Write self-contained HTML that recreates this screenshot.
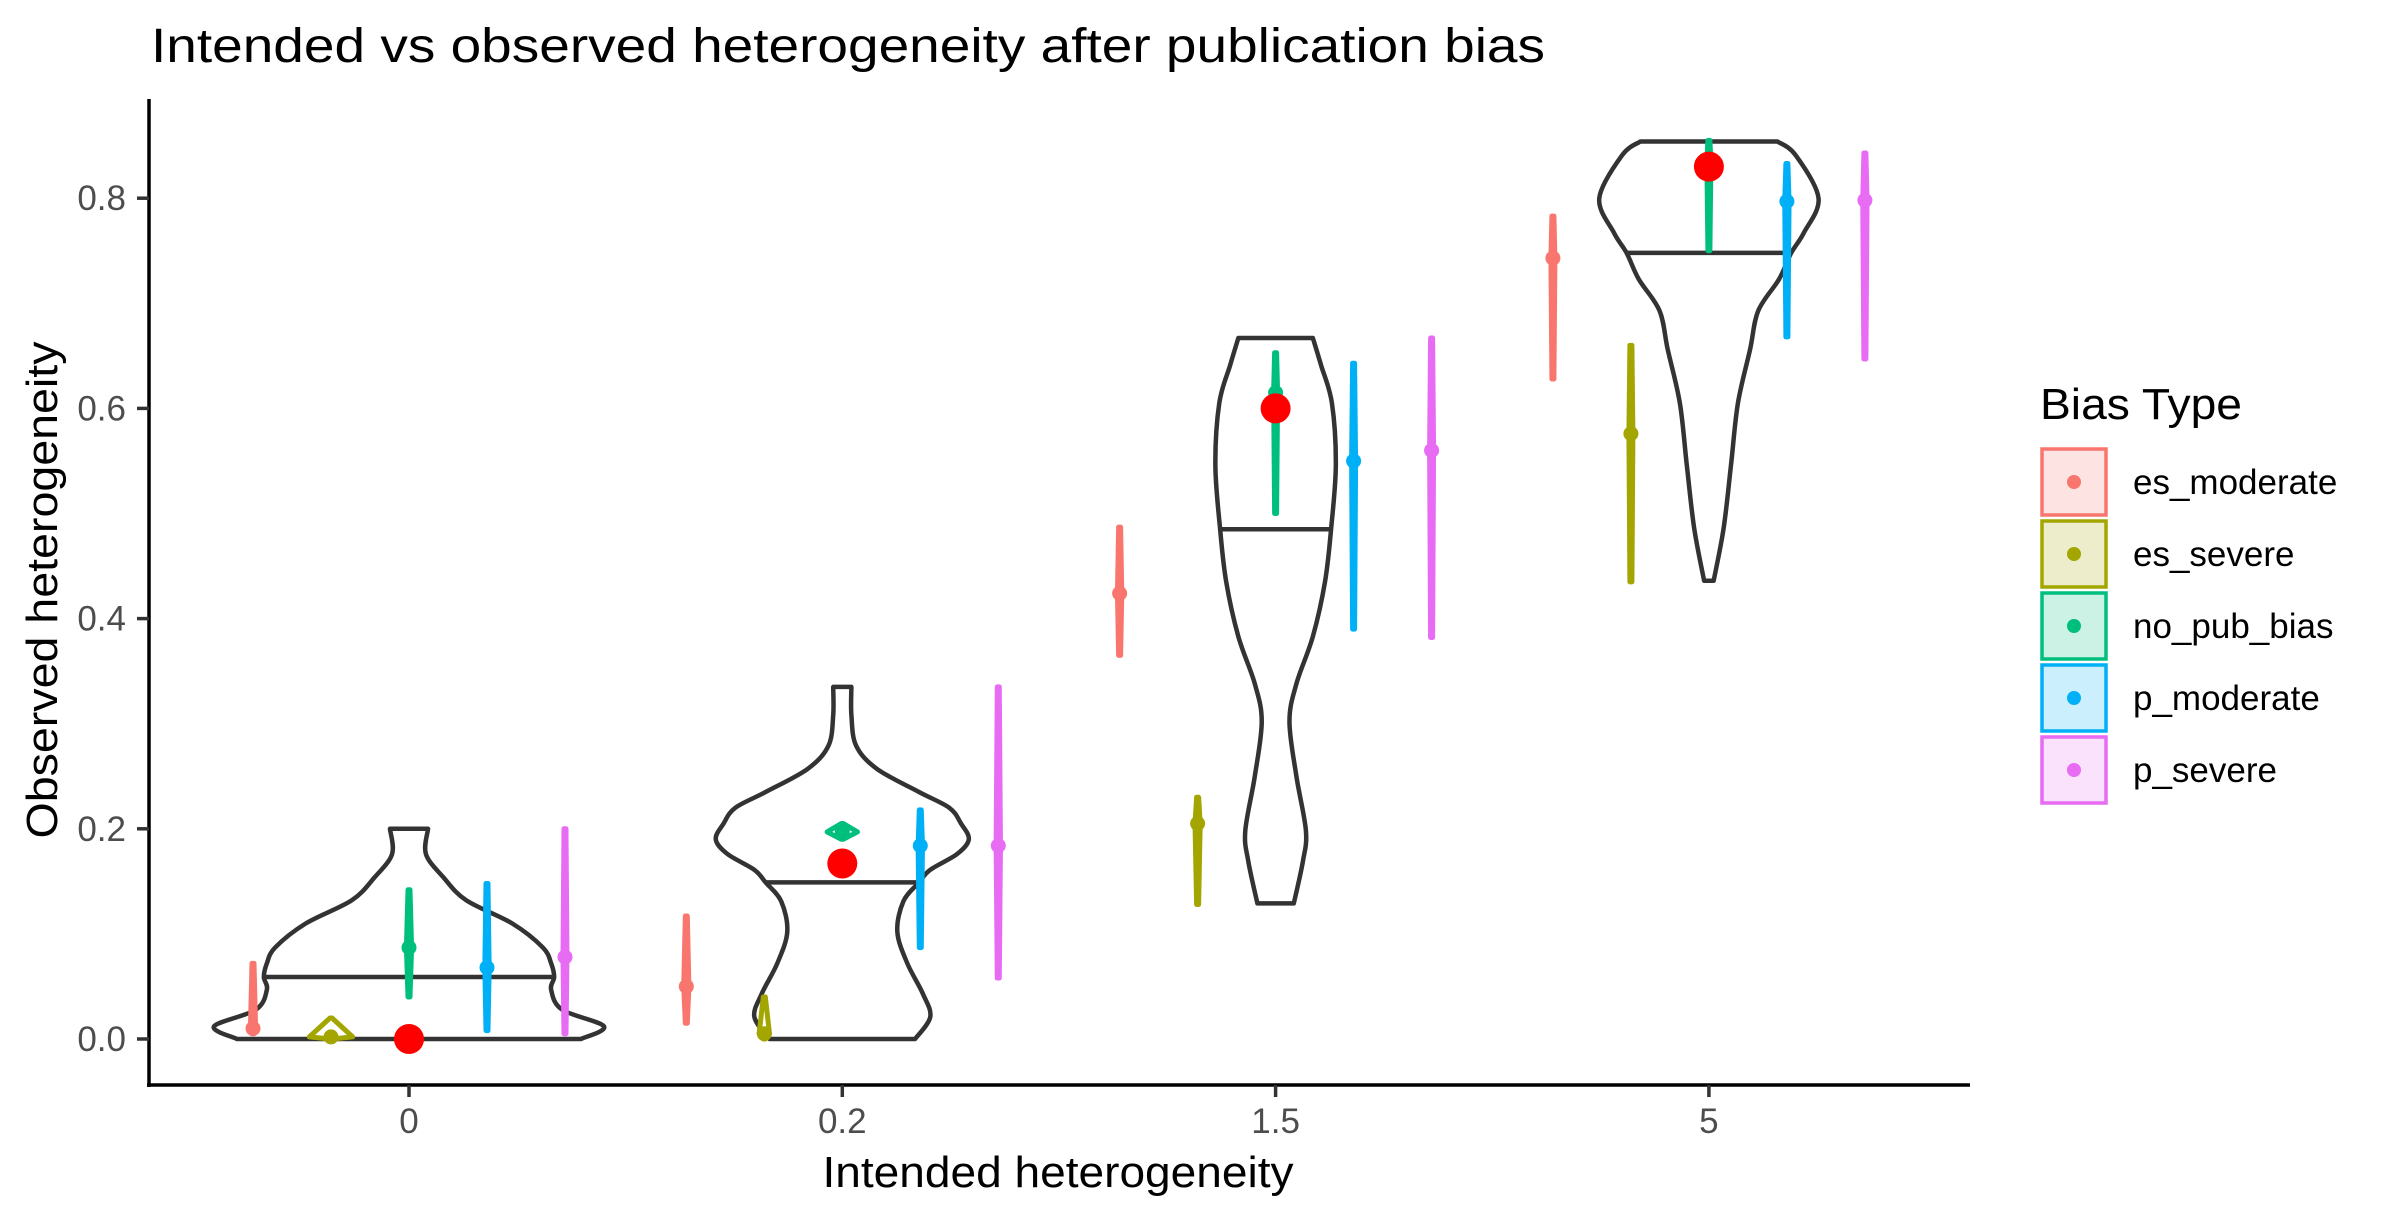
<!DOCTYPE html>
<html><head><meta charset="utf-8"><style>
html,body{margin:0;padding:0;background:#fff;}
svg{display:block;font-family:"Liberation Sans",Arial,sans-serif;}
</style></head><body>
<svg id="chart" width="2393" height="1218" viewBox="0 0 2393 1218" xmlns="http://www.w3.org/2000/svg">
<rect width="2393" height="1218" fill="#fff"/>
<text x="151" y="62" font-size="48" fill="#000" textLength="1394" lengthAdjust="spacingAndGlyphs">Intended vs observed heterogeneity after publication bias</text>
<g id="plot"></g>
<line x1="149" y1="99" x2="149" y2="1087" stroke="#000" stroke-width="3.5"/>
<line x1="147" y1="1085" x2="1970" y2="1085" stroke="#000" stroke-width="3.5"/>
<g id="axes"></g>
<text x="1058" y="1187" font-size="44" text-anchor="middle" textLength="471" lengthAdjust="spacingAndGlyphs">Intended heterogeneity</text>
<text x="0" y="0" font-size="44" text-anchor="middle" transform="translate(57,590) rotate(-90)" textLength="497" lengthAdjust="spacingAndGlyphs">Observed heterogeneity</text>
<g id="legend">
<text x="2040" y="419" font-size="44" textLength="202" lengthAdjust="spacingAndGlyphs">Bias Type</text>
</g>
</svg>
<script>
const categories = ["0", "0.2", "1.5", "5"];
const series = ["es_moderate", "es_severe", "no_pub_bias", "p_moderate", "p_severe"];
const colors = ["#F8766D", "#A3A500", "#00BF7D", "#00B0F6", "#E76BF3"];
const yTicks = [0.0, 0.2, 0.4, 0.6, 0.8];
const yTickLabels = ["0.0", "0.2", "0.4", "0.6", "0.8"];
const estEsModerate = [0.01, 0.05, 0.424, 0.743];
const estEsSevere = [0.002, 0.005, 0.205, 0.576];
const estNoPub = [0.087, 0.197, 0.615, 0.835];
const estPModerate = [0.068, 0.184, 0.55, 0.797];
const estPSevere = [0.078, 0.184, 0.56, 0.798];
const minEsModerate = [0.005, 0.015, 0.365, 0.628];
const maxEsModerate = [0.072, 0.117, 0.487, 0.783];
const minEsSevere = [0.0, 0.0, 0.128, 0.435];
const maxEsSevere = [0.02, 0.04, 0.23, 0.66];
const minNoPub = [0.04, 0.19, 0.5, 0.75];
const maxNoPub = [0.142, 0.205, 0.653, 0.855];
const minPModerate = [0.008, 0.087, 0.39, 0.668];
const maxPModerate = [0.148, 0.218, 0.643, 0.833];
const minPSevere = [0.005, 0.058, 0.382, 0.647];
const maxPSevere = [0.2, 0.335, 0.667, 0.843];
const spreadEsSevere = [0.05, 0.012, 0.006, 0.003];
const spreadNoPub = [0.006, 0.035, 0.004, 0.004];
const intendedMeans = [0.0, 0.167, 0.6, 0.83];
const violin0V = [0.2,0.176,0.154,0.132,0.11,0.087,0.072,0.059,0.047,0.028,0.012,0];
const violin0W = [.044,.039,.079,.132,.238,.309,.328,.335,.328,.353,.45,.397];
const violin1V = [0.335,0.308,0.279,0.257,0.235,0.22,0.205,0.19,0.176,0.161,0.149,0.131,0.102,0.072,0.043,0.021,0];
const violin1W = [.021,.021,.032,.08,.177,.247,.274,.292,.265,.203,.177,.141,.127,.15,.186,.203,.168];
const violin2V = [0.667,0.641,0.605,0.546,0.485,0.435,0.383,0.338,0.302,0.25,0.198,0.169,0.129];
const violin2W = [.086,.105,.13,.139,.128,.114,.086,.048,.032,.048,.07,.063,.042];
const violin3V = [0.854,0.841,0.8,0.767,0.748,0.723,0.693,0.656,0.605,0.546,0.486,0.436];
const violin3W = [.158,.2,.253,.219,.19,.162,.114,.095,.067,.051,.034,.011];
const violinMedians = [0.059, 0.149, 0.485, 0.748];

const NS = "http://www.w3.org/2000/svg";
const x0 = 409, band = 433.3;
function xScale(i){ return x0 + i*band; }
function yScale(v){ return 1039 - v*1051; }
function wScale(w){ return w*band; }
function mk(tag, attrs, parent){
  const e = document.createElementNS(NS, tag);
  for (const k in attrs) e.setAttribute(k, attrs[k]);
  parent.appendChild(e); return e;
}
function smoothOpen(pts){
  let d = "M" + pts[0][0] + "," + pts[0][1];
  for (let i = 0; i < pts.length-1; i++){
    const p0 = pts[Math.max(i-1,0)], p1 = pts[i], p2 = pts[i+1], p3 = pts[Math.min(i+2,pts.length-1)];
    const c1 = [p1[0]+(p2[0]-p0[0])/6, p1[1]+(p2[1]-p0[1])/6];
    const c2 = [p2[0]-(p3[0]-p1[0])/6, p2[1]-(p3[1]-p1[1])/6];
    d += " C" + c1.join(",") + " " + c2.join(",") + " " + p2.join(",");
  }
  return d;
}
const plot = document.getElementById("plot");
const axes = document.getElementById("axes");

yTicks.forEach((t, i) => {
  const y = yScale(t);
  const tk = mk("line", {x1:137, x2:149, y1:y, y2:y, stroke:"#333", "stroke-width":3.5}, axes);
  
  
  const tx = mk("text", {x:126, y:y+12, "font-size":35, fill:"#4d4d4d", "text-anchor":"end"}, axes);
  tx.textContent = yTickLabels[i];
  
  
});
categories.forEach((c, i) => {
  const x = xScale(i);
  const tk = mk("line", {x1:x, x2:x, y1:1085, y2:1097, stroke:"#333", "stroke-width":3.5}, axes);
  
  
  const tx = mk("text", {x:x, y:1133, "font-size":35, fill:"#4d4d4d", "text-anchor":"middle"}, axes);
  tx.textContent = c;
  
  
});

const vV = [violin0V, violin1V, violin2V, violin3V];
const vW = [violin0W, violin1W, violin2W, violin3W];
vV.forEach((vals, i) => {
  const cx = xScale(i), ws = vW[i];
  const right = vals.map((v, k) => [cx + wScale(ws[k]), yScale(v)]);
  const left = vals.map((v, k) => [cx - wScale(ws[k]), yScale(v)]).reverse();
  const d = smoothOpen(right) + " L" + left[0].join(",") + " " + smoothOpen(left).slice(1).replace(/^[^C]*/, "") + " Z";
  const p = mk("path", {d: d, fill:"none", stroke:"#333", "stroke-width":4.5, "stroke-linejoin":"round"}, plot);
  
  
  const m = violinMedians[i];
  let hw = ws[0];
  for (let k = 0; k < vals.length-1; k++){
    if (vals[k] >= m && vals[k+1] <= m){
      const t = (vals[k]-m)/((vals[k]-vals[k+1])||1);
      hw = ws[k] + t*(ws[k+1]-ws[k]);
    }
  }
  const ml = mk("line", {x1:cx-wScale(hw), x2:cx+wScale(hw), y1:yScale(m), y2:yScale(m), stroke:"#333", "stroke-width":4.5}, plot);
  
  
});

const estAll = [estEsModerate, estEsSevere, estNoPub, estPModerate, estPSevere];
const minAll = [minEsModerate, minEsSevere, minNoPub, minPModerate, minPSevere];
const maxAll = [maxEsModerate, maxEsSevere, maxNoPub, maxPModerate, maxPSevere];
const spreadAll = [[0.006,0.006,0.005,0.004], spreadEsSevere, spreadNoPub, [0.005,0.005,0.004,0.005], [0.004,0.005,0.003,0.005]];
const offsets = [-0.36, -0.18, 0, 0.18, 0.36];
series.forEach((s, si) => {
  categories.forEach((c, ci) => {
    const cx = xScale(ci + offsets[si]);
    const e = estAll[si][ci], lo = minAll[si][ci], hi = maxAll[si][ci];
    const hw = Math.max(wScale(spreadAll[si][ci]), 2);
    const pts = [[cx-1, yScale(hi)], [cx+1, yScale(hi)], [cx+hw, yScale(e)], [cx+1, yScale(lo)], [cx-1, yScale(lo)], [cx-hw, yScale(e)]];
    const g = mk("polygon", {points: pts.map(p=>p.join(",")).join(" "), fill:"none", stroke:colors[si], "stroke-width":5, "stroke-linejoin":"round"}, plot);
    
    
    const d = mk("circle", {cx:cx, cy:yScale(e), r:7.5, fill:colors[si]}, plot);
    
    
  });
});
intendedMeans.forEach((m, i) => {
  const d = mk("circle", {cx:xScale(i), cy:yScale(m), r:15, fill:"#FF0000"}, plot);
  
  
});

const fills = ["#FDE3E1", "#EDEDCC", "#CCF2E5", "#CCEFFD", "#FAE1FC"];
const leg = document.getElementById("legend");
series.forEach((s, i) => {
  const top = 449 + i*72;
  const r = mk("rect", {x:2042, y:top, width:64, height:66, fill:fills[i], stroke:colors[i], "stroke-width":3.5}, leg);
  
  
  const c = mk("circle", {cx:2074, cy:top+33, r:7, fill:colors[i]}, leg);
  
  
  const t = mk("text", {x:2133, y:top+45, "font-size":35, fill:"#000"}, leg);
  t.textContent = s;
  
  
});
</script>
</body></html>
